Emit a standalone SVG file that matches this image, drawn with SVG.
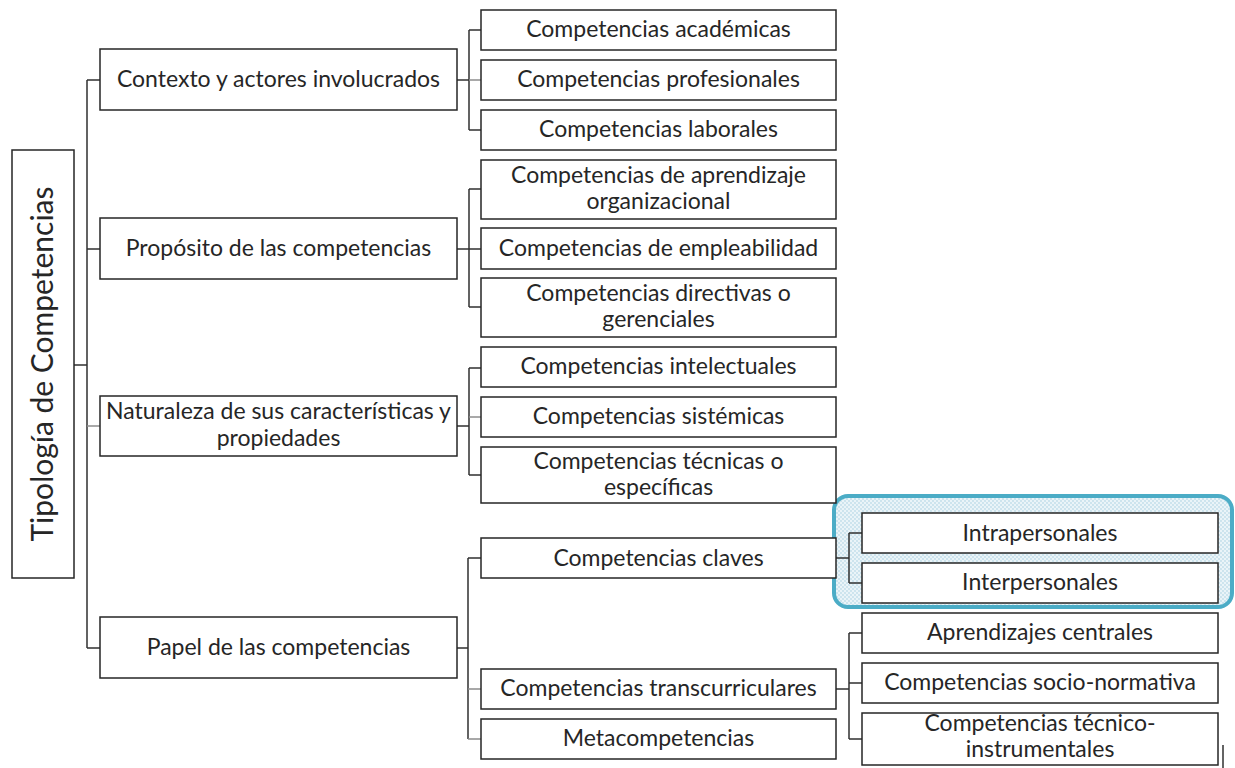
<svg xmlns="http://www.w3.org/2000/svg" width="1235" height="768" viewBox="0 0 1235 768">
  <style>
    .box { fill: #ffffff; stroke: #262626; stroke-width: 1.5; }
    .lbl { font-family: Lato, "Open Sans", sans-serif; font-size: 23px; fill: #262626; text-anchor: middle; }
    .root { font-family: Lato, "Open Sans", sans-serif; font-size: 30px; fill: #262626; text-anchor: middle; }
    .ln { fill: none; stroke: #303030; stroke-width: 1.5; }
    .lg { fill: none; stroke: #8c8c8c; stroke-width: 1.5; }
  </style>
  <defs>
    <pattern id="dots" width="4" height="4" patternUnits="userSpaceOnUse">
      <rect width="4" height="4" fill="#eaf4f8"/>
      <circle cx="1" cy="1" r="0.9" fill="#bfdde9"/>
      <circle cx="3" cy="3" r="0.9" fill="#bfdde9"/>
    </pattern>
  </defs>

  <rect width="1235" height="768" fill="#ffffff"/>

  <!-- highlight behind the key-competence children -->
  <g id="highlight">
    <rect x="834" y="496" width="398" height="111" rx="14" fill="url(#dots)" stroke="#4bacc6" stroke-width="4"/>
  </g>

  <!-- connectors -->
  <g id="connectors">
    <!-- root to first level -->
    <path class="ln" d="M74 365H87M87 80V648M87 80H100M87 249H100M87 648H100"/>
    <path class="lg" d="M87 426H100"/>
    <!-- Contexto -->
    <path class="ln" d="M457 80H469M469 30V130M469 30H481M469 130H481"/>
    <path class="lg" d="M469 80H481"/>
    <!-- Propósito -->
    <path class="ln" d="M457 249H469M469 189V307M469 189H481M469 249H481M469 307H481"/>
    <!-- Naturaleza -->
    <path class="ln" d="M457 426H469M469 368V475M469 368H481M469 475H481"/>
    <path class="lg" d="M469 417H481"/>
    <!-- Papel -->
    <path class="ln" d="M457 648H468M468 558V739M468 558H481"/>
    <path class="lg" d="M468 689H481M468 739H481"/>
    <!-- Competencias claves -->
    <path class="ln" d="M836 558H849M849 533V583M849 533H862M849 583H862"/>
    <!-- Competencias transcurriculares -->
    <path class="ln" d="M836 689H849M849 633V739M849 633H862M849 683H862M849 739H862"/>
    <!-- tail stroke at the lower right -->
    <path class="ln" d="M1223 745V768"/>
  </g>

  <g id="n-root">
    <rect class="box" x="12" y="150" width="62" height="428"/>
    <text class="root" transform="translate(53 364) rotate(-90)">Tipología de Competencias</text>
  </g>

  <g id="n-contexto">
    <rect class="box" x="100" y="49" width="357" height="61"/>
    <text class="lbl" x="278.5" y="87">Contexto y actores involucrados</text>
  </g>
  <g id="n-proposito">
    <rect class="box" x="100" y="218" width="357" height="61"/>
    <text class="lbl" x="278.5" y="256">Propósito de las competencias</text>
  </g>
  <g id="n-naturaleza">
    <rect class="box" x="100" y="396" width="357" height="60"/>
    <text class="lbl" x="278.5" y="419">Naturaleza de sus características y</text>
    <text class="lbl" x="278.5" y="446">propiedades</text>
  </g>
  <g id="n-papel">
    <rect class="box" x="100" y="617" width="357" height="61"/>
    <text class="lbl" x="278.5" y="655">Papel de las competencias</text>
  </g>

  <g id="n-academicas">
    <rect class="box" x="481" y="10" width="355" height="40"/>
    <text class="lbl" x="658.5" y="37">Competencias académicas</text>
  </g>
  <g id="n-profesionales">
    <rect class="box" x="481" y="60" width="355" height="40"/>
    <text class="lbl" x="658.5" y="87">Competencias profesionales</text>
  </g>
  <g id="n-laborales">
    <rect class="box" x="481" y="110" width="355" height="40"/>
    <text class="lbl" x="658.5" y="137">Competencias laborales</text>
  </g>

  <g id="n-aprendizaje">
    <rect class="box" x="481" y="160" width="355" height="59"/>
    <text class="lbl" x="658.5" y="183">Competencias de aprendizaje</text>
    <text class="lbl" x="658.5" y="209">organizacional</text>
  </g>
  <g id="n-empleabilidad">
    <rect class="box" x="481" y="228" width="355" height="41"/>
    <text class="lbl" x="658.5" y="256">Competencias de empleabilidad</text>
  </g>
  <g id="n-directivas">
    <rect class="box" x="481" y="278" width="355" height="59"/>
    <text class="lbl" x="658.5" y="301">Competencias directivas o</text>
    <text class="lbl" x="658.5" y="327">gerenciales</text>
  </g>

  <g id="n-intelectuales">
    <rect class="box" x="481" y="347" width="355" height="40"/>
    <text class="lbl" x="658.5" y="374">Competencias intelectuales</text>
  </g>
  <g id="n-sistemicas">
    <rect class="box" x="481" y="397" width="355" height="40"/>
    <text class="lbl" x="658.5" y="424">Competencias sistémicas</text>
  </g>
  <g id="n-tecnicas">
    <rect class="box" x="481" y="447" width="355" height="56"/>
    <text class="lbl" x="658.5" y="469">Competencias técnicas o</text>
    <text class="lbl" x="658.5" y="495">específicas</text>
  </g>

  <g id="n-claves">
    <rect class="box" x="481" y="538" width="355" height="40"/>
    <text class="lbl" x="658.5" y="566">Competencias claves</text>
  </g>
  <g id="n-transcurriculares">
    <rect class="box" x="481" y="669" width="355" height="40"/>
    <text class="lbl" x="658.5" y="696">Competencias transcurriculares</text>
  </g>
  <g id="n-meta">
    <rect class="box" x="481" y="719" width="355" height="40"/>
    <text class="lbl" x="658.5" y="746">Metacompetencias</text>
  </g>

  <g id="n-intrapersonales">
    <rect class="box" x="862" y="513" width="356" height="40"/>
    <text class="lbl" x="1040" y="541">Intrapersonales</text>
  </g>
  <g id="n-interpersonales">
    <rect class="box" x="862" y="563" width="356" height="40"/>
    <text class="lbl" x="1040" y="590">Interpersonales</text>
  </g>

  <g id="n-centrales">
    <rect class="box" x="862" y="613" width="356" height="40"/>
    <text class="lbl" x="1040" y="640">Aprendizajes centrales</text>
  </g>
  <g id="n-socionormativa">
    <rect class="box" x="862" y="663" width="356" height="40"/>
    <text class="lbl" x="1040" y="690">Competencias socio-normativa</text>
  </g>
  <g id="n-tecnicoinstrumentales">
    <rect class="box" x="862" y="713" width="356" height="52"/>
    <text class="lbl" x="1040" y="731">Competencias técnico-</text>
    <text class="lbl" x="1040" y="757">instrumentales</text>
  </g>
</svg>
